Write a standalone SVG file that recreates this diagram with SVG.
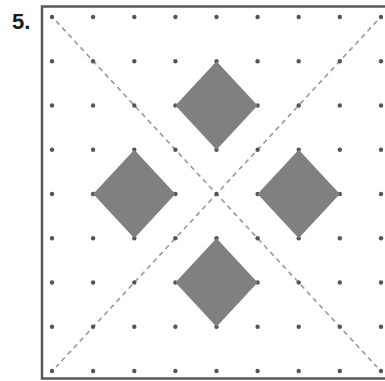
<svg xmlns="http://www.w3.org/2000/svg" width="385" height="381" viewBox="0 0 385 381">
<style>
.frame{fill:none;stroke:#5a5a5a;stroke-width:2.5}
.dot{fill:#555}
.dia{fill:#808083}
.diag{stroke:#999;stroke-width:1.6;stroke-dasharray:5 4;fill:none}
.lbl{font-family:"Liberation Sans",Arial,sans-serif;font-weight:bold;font-size:22px;fill:#1a1a1a}
</style>
<rect width="385" height="381" fill="#fff"/>
<text class="lbl" x="12" y="29">5.</text>
<g id="frame"><rect class="frame" x="42" y="6.5" width="345" height="372"/></g>
<g id="connectors">
<line class="diag" x1="56" y1="21" x2="377" y2="367"/>
<line class="diag" x1="377" y1="21" x2="56" y2="367"/>
</g>
<g id="dots">
<defs><g id="row">
<circle class="dot" cx="52" cy="0" r="2.2"/><circle class="dot" cx="93.1" cy="0" r="2.2"/><circle class="dot" cx="134.3" cy="0" r="2.2"/><circle class="dot" cx="175.4" cy="0" r="2.2"/><circle class="dot" cx="216.5" cy="0" r="2.2"/><circle class="dot" cx="257.6" cy="0" r="2.2"/><circle class="dot" cx="298.7" cy="0" r="2.2"/><circle class="dot" cx="339.8" cy="0" r="2.2"/><circle class="dot" cx="381" cy="0" r="2.2"/>
</g></defs>
<use href="#row" y="17"/><use href="#row" y="61.3"/><use href="#row" y="105.5"/><use href="#row" y="149.8"/><use href="#row" y="194"/><use href="#row" y="238.3"/><use href="#row" y="282.5"/><use href="#row" y="326.8"/><use href="#row" y="371"/>
</g>
<g id="diamonds">
<polygon id="d-top" class="dia" points="216.5,61.3 257.6,105.5 216.5,149.8 175.4,105.5"/>
<polygon id="d-left" class="dia" points="134.3,149.8 175.4,194 134.3,238.3 93.2,194"/>
<polygon id="d-right" class="dia" points="298.7,149.8 339.8,194 298.7,238.3 257.6,194"/>
<polygon id="d-bottom" class="dia" points="216.5,238.3 257.6,282.5 216.5,326.8 175.4,282.5"/>
</g>
</svg>
